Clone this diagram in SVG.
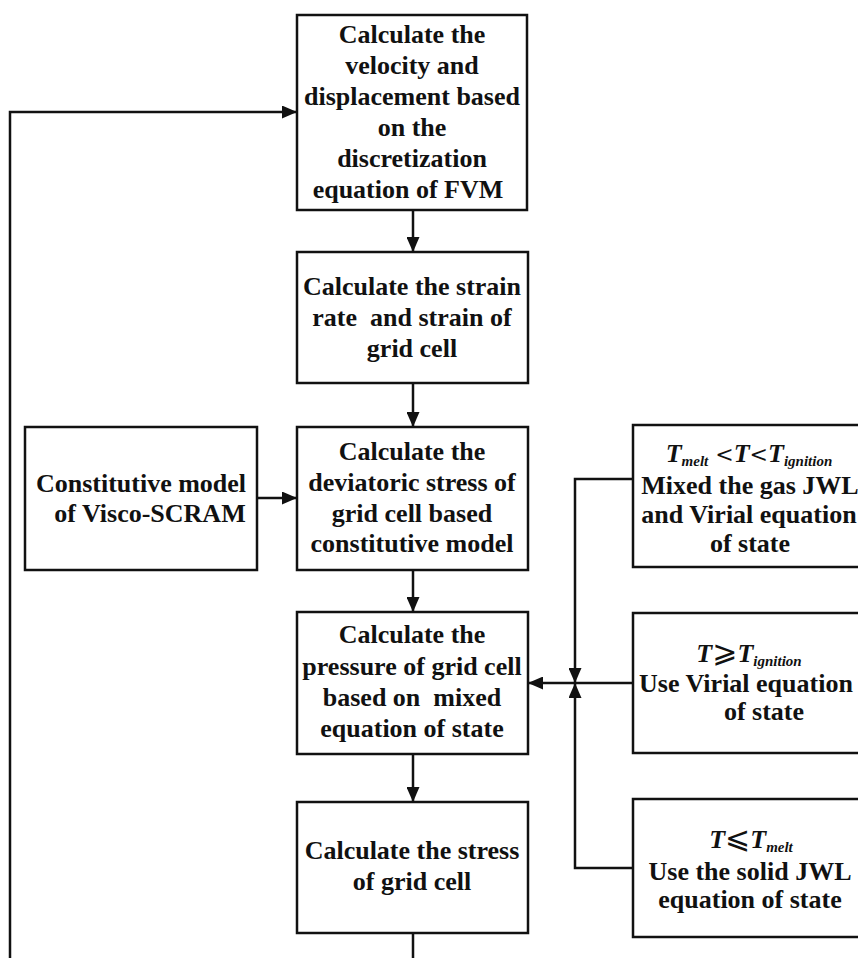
<svg xmlns="http://www.w3.org/2000/svg" width="858" height="958" viewBox="0 0 858 958">
<style>
.box{fill:#fff;stroke:#111;stroke-width:2.5}
.t{font-family:"Liberation Serif","Times New Roman",serif;font-weight:bold;font-size:26px;fill:#111;text-anchor:middle}
.i{font-style:italic}
.sub{font-style:italic;font-size:15px}
.sym{font-family:"DejaVu Serif","DejaVu Sans",serif;font-weight:normal;font-size:22px}
.rel{font-family:"DejaVu Sans","DejaVu Serif",sans-serif;font-weight:normal;font-size:30px}
.c{fill:none;stroke:#111;stroke-width:2.5}
</style>
<defs>
<marker id="ah" markerUnits="userSpaceOnUse" markerWidth="15" markerHeight="13" refX="15" refY="6.5" orient="auto">
<path d="M0,0 L15,6.5 L0,13 z" fill="#111"/>
</marker>
</defs>
<rect width="858" height="958" fill="#fff"/>
<g id="connectors">
<path class="c" d="M413,210 V252" marker-end="url(#ah)"/>
<path class="c" d="M413,383 V427" marker-end="url(#ah)"/>
<path class="c" d="M257,498 H297" marker-end="url(#ah)"/>
<path class="c" d="M413,570 V612" marker-end="url(#ah)"/>
<path class="c" d="M413,754 V802" marker-end="url(#ah)"/>
<path class="c" d="M413,933 V975 H10 V112 H297" marker-end="url(#ah)"/>
<path class="c" d="M633,479 H575 V683" marker-end="url(#ah)"/>
<path class="c" d="M633,868 H575 V683" marker-end="url(#ah)"/>
<path class="c" d="M633,683 H528" marker-end="url(#ah)"/>
</g>
<g id="n1">
<rect class="box" x="297" y="15" width="230" height="195"/>
<text class="t" x="412" y="43">Calculate the</text>
<text class="t" x="412" y="74">velocity and</text>
<text class="t" x="412" y="105">displacement based</text>
<text class="t" x="412" y="136">on the</text>
<text class="t" x="412" y="167">discretization</text>
<text class="t" x="408" y="198">equation of FVM</text>
</g>
<g id="n2">
<rect class="box" x="297" y="252" width="231" height="131"/>
<text class="t" x="412" y="295">Calculate the strain</text>
<text class="t" x="412" y="326" xml:space="preserve">rate  and strain of</text>
<text class="t" x="412" y="357">grid cell</text>
</g>
<g id="n3">
<rect class="box" x="25" y="427" width="232" height="143"/>
<text class="t" x="141" y="492">Constitutive model</text>
<text class="t" x="150" y="522">of Visco-SCRAM</text>
</g>
<g id="n4">
<rect class="box" x="297" y="427" width="231" height="143"/>
<text class="t" x="412" y="460">Calculate the</text>
<text class="t" x="412" y="491">deviatoric stress of</text>
<text class="t" x="412" y="522">grid cell based</text>
<text class="t" x="412" y="552">constitutive model</text>
</g>
<g id="n5">
<rect class="box" x="297" y="612" width="231" height="142"/>
<text class="t" x="412" y="643">Calculate the</text>
<text class="t" x="412" y="675">pressure of grid cell</text>
<text class="t" x="412" y="706" xml:space="preserve">based on  mixed</text>
<text class="t" x="412" y="737">equation of state</text>
</g>
<g id="n6">
<rect class="box" x="297" y="802" width="231" height="131"/>
<text class="t" x="412" y="859">Calculate the stress</text>
<text class="t" x="412" y="890">of grid cell</text>
</g>
<g id="r1">
<rect class="box" x="633" y="425" width="260" height="142"/>
<text class="t" x="749" y="462"><tspan class="i">T</tspan><tspan class="sub" dy="4">melt</tspan><tspan class="sym" dy="-4"> &lt;</tspan><tspan class="i">T</tspan><tspan class="sym">&lt;</tspan><tspan class="i">T</tspan><tspan class="sub" dy="4">ignition</tspan></text>
<text class="t" x="750" y="494">Mixed the gas JWL</text>
<text class="t" x="749" y="523">and Virial equation</text>
<text class="t" x="750" y="552">of state</text>
</g>
<g id="r2">
<rect class="box" x="633" y="613" width="260" height="140"/>
<text class="t" x="749" y="662"><tspan class="i">T</tspan><tspan class="rel">⩾</tspan><tspan class="i">T</tspan><tspan class="sub" dy="4">ignition</tspan></text>
<text class="t" x="746" y="692">Use Virial equation</text>
<text class="t" x="764" y="720">of state</text>
</g>
<g id="r3">
<rect class="box" x="633" y="799" width="260" height="138"/>
<text class="t" x="751" y="848"><tspan class="i">T</tspan><tspan class="rel">⩽</tspan><tspan class="i">T</tspan><tspan class="sub" dy="4">melt</tspan></text>
<text class="t" x="750" y="880">Use the solid JWL</text>
<text class="t" x="750" y="908">equation of state</text>
</g>
</svg>
